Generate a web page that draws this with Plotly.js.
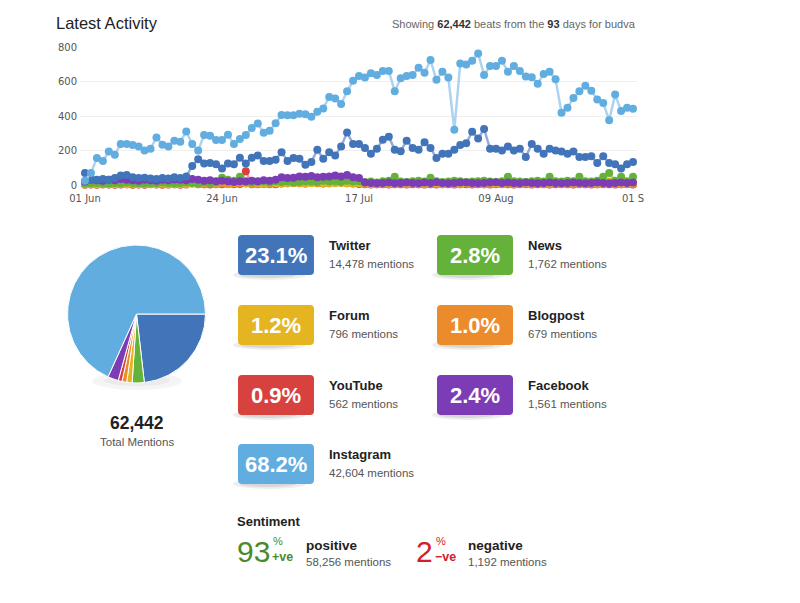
<!DOCTYPE html>
<html><head><meta charset="utf-8">
<script src="https://cdn.plot.ly/plotly-3.0.1.min.js"></script>
<style>html,body{margin:0;padding:0;background:#fff;}#chart{width:800px;height:603px;}</style>
</head><body><div id="chart"></div>
<script>
// ---------- data ----------
const tickDays = [0, 23, 46, 69, 92];
const tickLabels = ['01 Jun', '24 Jun', '17 Jul', '09 Aug', '01 S'];
const yTicks = [0, 200, 400, 600, 800];

const instagram = [25,70,156,139,194,175,238,238,232,223,200,210,276,234,223,257,251,310,238,200,290,286,261,
261,291,238,267,290,330,356,303,314,358,406,404,404,413,410,396,425,444,510,501,470,543,604,632,
623,648,638,661,661,543,619,632,638,680,651,724,610,657,623,320,705,699,720,762,638,690,690,720,
657,690,661,629,625,587,644,657,613,419,448,505,543,575,547,495,476,375,524,429,448,442];
const twitter = [70,35,30,35,30,40,55,58,45,40,42,38,35,40,38,45,40,50,110,150,124,128,120,
95,124,120,158,124,158,171,139,139,147,190,139,156,152,118,133,204,152,190,171,223,305,238,238,
215,181,210,263,280,204,196,257,215,204,248,215,156,181,181,204,232,242,309,270,324,210,210,200,
223,200,210,162,238,210,181,210,200,194,181,194,162,162,166,128,166,128,120,95,120,133];
const facebook = [20,30,28,25,30,28,35,30,28,25,30,27,25,30,28,32,30,28,35,30,25,28,22,
25,20,18,22,20,25,22,28,25,30,45,40,42,50,48,52,45,48,50,55,50,58,45,40,
15,12,10,12,14,10,12,15,12,10,14,12,16,12,10,12,14,15,12,10,12,14,16,12,
15,12,10,14,12,10,12,14,12,10,12,15,12,10,12,14,12,10,12,14,12,15];
const news = [8,10,12,10,8,12,10,14,12,10,8,12,10,14,12,10,12,15,12,10,14,12,15,
42,30,25,48,20,15,18,20,15,22,18,20,15,18,22,20,18,25,20,22,18,25,20,22,
18,20,15,22,25,48,20,18,22,25,20,42,22,18,20,25,22,18,20,22,25,20,18,22,
48,22,20,18,22,25,20,48,22,20,25,22,48,22,20,25,48,70,25,48,22,48];
const forum = [5,6,4,8,6,5,7,6,8,5,6,7,5,8,6,7,5,6,8,10,12,15,10,
22,15,12,25,10,12,8,10,12,10,8,10,12,10,8,10,12,10,8,10,12,10,8,10,
8,6,10,12,8,10,12,8,15,10,8,12,10,8,12,10,8,10,12,8,10,12,8,10,
12,15,10,8,10,12,15,10,12,8,10,12,10,8,12,10,15,20,12,10,8,12];
const blogpost = [3,4,5,3,4,6,5,4,3,5,4,6,5,4,3,5,4,6,8,6,5,7,6,
8,6,7,10,8,6,8,7,6,8,12,25,28,30,25,28,30,32,28,30,35,30,25,15,
8,6,5,7,6,5,8,6,7,5,6,8,6,5,7,6,5,8,6,7,5,6,8,6,
7,5,6,8,5,7,6,5,8,6,7,5,6,8,6,5,7,10,6,5,7,6];
const youtube = [2,3,2,4,3,2,3,4,2,3,2,4,3,2,3,4,2,3,15,5,4,3,5,
4,6,5,6,80,4,5,6,4,5,8,10,12,10,8,12,10,8,10,12,15,10,8,6,
4,3,5,4,3,4,5,3,4,5,3,4,3,5,4,3,4,5,3,4,5,3,4,5,
4,3,5,4,3,4,5,3,4,5,4,3,4,5,3,4,5,4,3,5,4,3];

const channels = ['Twitter', 'News', 'Forum', 'Blogpost', 'YouTube', 'Facebook', 'Instagram'];
const mentions = [14478, 1762, 796, 679, 562, 1561, 42604];
const pctLabels = ['23.1%', '2.8%', '1.2%', '1.0%', '0.9%', '2.4%', '68.2%'];

const sentimentPct = [93, 2];
const sentimentLabels = ['positive', 'negative'];
const sentimentTags = ['+ve', '\u2212ve'];
const sentimentMentions = [58256, 1192];

// ---------- styles ----------
const chColors = {Twitter:'#4274ba', News:'#64b23a', Forum:'#e4b521', Blogpost:'#ec8b2c',
  YouTube:'#d8423e', Facebook:'#7c3cb6', Instagram:'#62ade0'};
const lineColors = {Twitter:'#93acd8', News:'#a9d38d', Forum:'#efd27e', Blogpost:'#f3b97f',
  YouTube:'#eb9a97', Facebook:'#b592d6', Instagram:'#acd4f0'};
const seriesData = {YouTube:youtube, Blogpost:blogpost, Forum:forum, News:news, Facebook:facebook, Twitter:twitter, Instagram:instagram};
const drawOrder = ['YouTube', 'Blogpost', 'Forum', 'News', 'Facebook', 'Twitter', 'Instagram'];
const FONT = 'Liberation Sans, Arial, sans-serif';
const fmt = n => n.toLocaleString('en-US');

const dayIdx = instagram.map((_, i) => i);
const traces = drawOrder.map(name => ({
  type: 'scatter', mode: 'lines+markers', name: name,
  x: dayIdx, y: seriesData[name],
  line: {color: lineColors[name], width: 2.5},
  marker: {color: chColors[name], size: 8},
  cliponaxis: false, hoverinfo: 'skip'
}));

const totalMentions = mentions.reduce((a, b) => a + b, 0);

traces.push({
  type: 'pie', labels: channels, values: mentions, sort: false,
  direction: 'clockwise', rotation: 90, textinfo: 'none', hoverinfo: 'none',
  marker: {colors: channels.map(c => chColors[c]), line: {color: '#ffffff', width: 1}},
  domain: {x: [67.5/800, 205.5/800], y: [(603-383)/603, (603-245)/603]},
  showlegend: false
});
traces.push({type: 'scatter', x: [], y: [], xaxis: 'x2', yaxis: 'y2', hoverinfo: 'skip', showlegend: false});

// ---------- layout helpers ----------
const shapes = [];
const annotations = [];
function ann(x, y, text, size, color, xanchor, extra) {
  annotations.push(Object.assign({xref: 'x2', yref: 'y2', x: x, y: y, text: text, showarrow: false,
    xanchor: xanchor || 'left', yanchor: 'middle', borderpad: 0,
    font: {family: FONT, size: size, color: color}}, extra || {}));
}
function roundRect(x0, y0, w, h, r) {
  const x1 = x0 + w, y1 = y0 + h;
  return `M${x0+r},${y0} H${x1-r} Q${x1},${y0} ${x1},${y0+r} V${y1-r} Q${x1},${y1} ${x1-r},${y1} H${x0+r} Q${x0},${y1} ${x0},${y1-r} V${y0+r} Q${x0},${y0} ${x0+r},${y0} Z`;
}

// header
ann(55, 23, 'Latest Activity', 16.5, '#222');
ann(637, 24, `Showing <b><span style="color:#333">${fmt(totalMentions)}</span></b> beats from the <b><span style="color:#333">${instagram.length}</span></b> days for budva`, 11, '#666', 'right');

// pie shadow
shapes.push({type: 'circle', xref: 'x2', yref: 'y2', x0: 92, x1: 182, y0: 372, y1: 390, fillcolor: 'rgba(0,0,0,0.04)', line: {width: 0}, layer: 'below'});
shapes.push({type: 'circle', xref: 'x2', yref: 'y2', x0: 104, x1: 170, y0: 375, y1: 386, fillcolor: 'rgba(0,0,0,0.04)', line: {width: 0}, layer: 'below'});
ann(136.5, 423, `<b>${fmt(totalMentions)}</b>`, 17.5, '#222', 'center');
ann(136.5, 442, 'Total Mentions', 11.5, '#555', 'center');

// badges
const colX = [238, 437];
const rowY = [235, 305, 375, 444];
channels.forEach((c, i) => {
  const x0 = colX[i % 2], y0 = rowY[Math.floor(i / 2)];
  shapes.push({type: 'circle', xref: 'x2', yref: 'y2', x0: x0 - 5, x1: x0 + 68, y0: y0 + 35, y1: y0 + 45, fillcolor: 'rgba(0,0,0,0.07)', line: {width: 0}, layer: 'below'});
  shapes.push({type: 'circle', xref: 'x2', yref: 'y2', x0: x0 + 2, x1: x0 + 58, y0: y0 + 37, y1: y0 + 43, fillcolor: 'rgba(0,0,0,0.09)', line: {width: 0}, layer: 'below'});
  shapes.push({type: 'path', xref: 'x2', yref: 'y2', path: roundRect(x0, y0, 76, 40, 4), fillcolor: chColors[c], line: {width: 0}, layer: 'below'});
  ann(x0 + 38, y0 + 20, `<b>${pctLabels[i]}</b>`, 22, '#ffffff', 'center');
  ann(x0 + 90, y0 + 10, `<b>${c}</b>`, 13, '#222');
  ann(x0 + 90, y0 + 29, `${fmt(mentions[i])} mentions`, 11.5, '#555');
});

// sentiment
ann(236, 521, '<b>Sentiment</b>', 13, '#222');
const sentX = [236, 415];
const sentColors = ['#4b8a2c', '#d0212b'];
sentimentPct.forEach((p, i) => {
  const x = sentX[i];
  const numW = String(p).length * 16.5;
  ann(x, 551, `${p}`, 30, sentColors[i]);
  ann(x + numW + 3, 541, '%', 11, sentColors[i]);
  ann(x + numW + 2, 557, `<b>${sentimentTags[i]}</b>`, 12.5, sentColors[i]);
  const lx = i === 0 ? 305 : 467;
  ann(lx, 545, `<b>${sentimentLabels[i]}</b>`, 13.5, '#222');
  ann(lx, 562, `${fmt(sentimentMentions[i])} mentions`, 11.5, '#555');
});

const axisFont = {family: 'DejaVu Sans, sans-serif', size: 10, color: '#555'};
const layout = {
  width: 800, height: 603,
  margin: {l: 0, r: 0, t: 0, b: 0},
  paper_bgcolor: '#ffffff', plot_bgcolor: 'rgba(0,0,0,0)',
  showlegend: false,
  font: {family: FONT, color: '#333'},
  xaxis: {domain: [80/800, 637/800], range: [-0.84, 92.67], tickmode: 'array', tickvals: tickDays, ticktext: tickLabels,
    showgrid: false, zeroline: false, showline: false, ticks: '', ticklabelstandoff: 6, tickfont: axisFont, anchor: 'y', fixedrange: true},
  yaxis: {domain: [1 - 185/603, 1 - 47/603], range: [0, 800], tickmode: 'array', tickvals: yTicks,
    showgrid: true, gridcolor: '#efefef', gridwidth: 1, zeroline: false, showline: false, ticks: '', ticklabelstandoff: 2, tickfont: axisFont, anchor: 'x', fixedrange: true},
  xaxis2: {domain: [0, 1], range: [0, 800], visible: false, anchor: 'y2', fixedrange: true},
  yaxis2: {domain: [0, 1], range: [603, 0], visible: false, anchor: 'x2', fixedrange: true},
  shapes: shapes,
  annotations: annotations
};

Plotly.newPlot('chart', traces, layout, {displayModeBar: false, staticPlot: true});
</script>
</body></html>
